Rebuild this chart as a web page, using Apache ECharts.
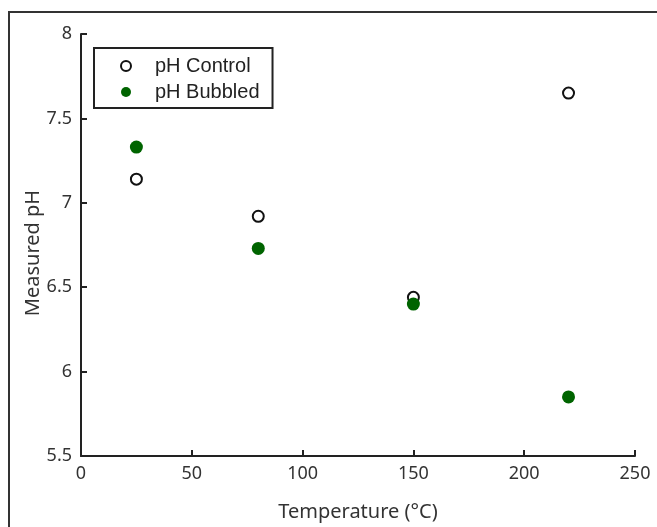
<!DOCTYPE html>
<html>
<head>
<meta charset="utf-8">
<script src="https://cdn.jsdelivr.net/npm/echarts@6/dist/echarts.min.js"></script>
<style>
  html, body { margin: 0; padding: 0; background: #fff; }
  #chart { width: 657px; height: 527px; }
</style>
</head>
<body>
<div id="chart"></div>
<script>
// Temperature (°C) of each sample
const temperatures = [25, 80, 150, 220];
// Measured pH values
const phControl = [7.14, 6.92, 6.44, 7.65];
const phBubbled = [7.33, 6.73, 6.40, 5.85];
const seriesNames = ['pH Control', 'pH Bubbled'];

const toPairs = (xs, ys) => xs.map((x, i) => [x, ys[i]]);

const axisColor = '#222';
const labelStyle = { color: '#333', fontFamily: 'Noto Sans', fontSize: 18 };

const chart = echarts.init(document.getElementById('chart'), null, { renderer: 'canvas' });

chart.setOption({
  animation: false,
  backgroundColor: '#fff',
  graphic: [{
    type: 'rect',
    shape: { x: 9, y: 12, width: 700, height: 600 },
    style: { fill: 'none', stroke: '#333', lineWidth: 2 },
    silent: true
  }],
  grid: { left: 81, right: 22, top: 34, bottom: 69 },
  legend: {
    orient: 'vertical',
    left: 94,
    top: 48,
    data: seriesNames,
    itemWidth: 10,
    itemHeight: 10,
    itemGap: 6,
    padding: [8, 13, 6, 26],
    borderColor: '#222',
    borderWidth: 2,
    textStyle: { color: '#222', fontFamily: 'Liberation Sans', fontSize: 20, lineHeight: 20, padding: [0, 0, 0, 19] }
  },
  xAxis: {
    type: 'value',
    min: 0, max: 250, interval: 50,
    name: 'Temperature (°C)',
    nameLocation: 'middle',
    nameGap: 46,
    nameMoveOverlap: false,
    nameTextStyle: { color: '#333', fontFamily: 'Noto Sans', fontSize: 20 },
    axisLine: { show: true, lineStyle: { color: axisColor, width: 2 } },
    axisTick: { show: true, inside: true, length: 6, lineStyle: { color: axisColor, width: 2 } },
    axisLabel: Object.assign({ margin: 9 }, labelStyle),
    splitLine: { show: false }
  },
  yAxis: {
    type: 'value',
    min: 5.5, max: 8, interval: 0.5,
    name: 'Measured pH',
    nameLocation: 'middle',
    nameGap: 38,
    nameRotate: 90,
    nameMoveOverlap: false,
    nameTextStyle: { color: '#333', fontFamily: 'Noto Sans', fontSize: 20, padding: [0, 16, 0, 0] },
    axisLine: { show: true, lineStyle: { color: axisColor, width: 2 } },
    axisTick: { show: true, inside: true, length: 6, lineStyle: { color: axisColor, width: 2 } },
    axisLabel: Object.assign({ margin: 9 }, labelStyle),
    splitLine: { show: false }
  },
  series: [
    {
      name: seriesNames[0],
      type: 'scatter',
      symbol: 'circle',
      symbolSize: 11,
      data: toPairs(temperatures, phControl),
      itemStyle: { color: '#fff', borderColor: '#111', borderWidth: 2, opacity: 1 },
      z: 2
    },
    {
      name: seriesNames[1],
      type: 'scatter',
      symbol: 'circle',
      symbolSize: 13,
      data: toPairs(temperatures, phBubbled),
      itemStyle: { color: '#006400', opacity: 1 },
      z: 3
    }
  ]
});
</script>
</body>
</html>
